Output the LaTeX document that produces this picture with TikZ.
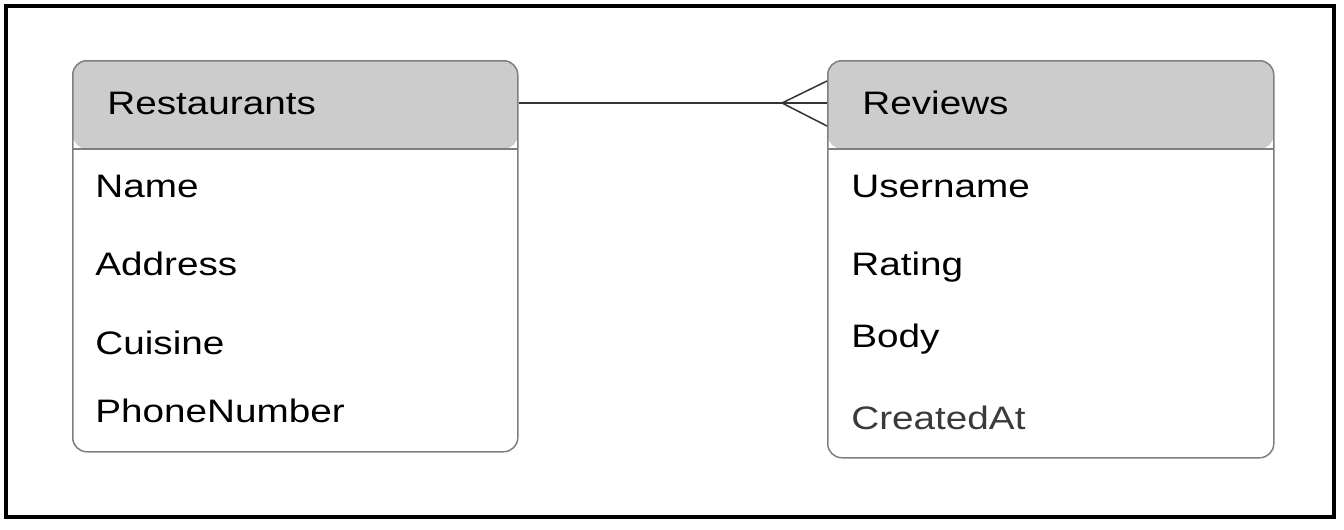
\documentclass[tikz,border=0pt]{standalone}
\usepackage{fontspec}
\setmainfont{Liberation Sans}[FakeStretch=1.19]
\definecolor{headfill}{HTML}{CCCCCC}
\definecolor{boxgray}{HTML}{7F7F7F}
\definecolor{linegray}{HTML}{333333}
\definecolor{softtext}{HTML}{3A3A3A}
\tikzset{
  tablebox/.style={rectangle, draw=boxgray, line width=0.75pt, rounded corners=7pt,
    inner sep=0pt, anchor=north west,
    path picture={
      \fill[headfill] (path picture bounding box.north west) rectangle ([yshift=-44pt]path picture bounding box.north east);
      \draw[boxgray, line width=0.75pt] ([yshift=-44pt]path picture bounding box.north west) -- ([yshift=-44pt]path picture bounding box.north east);
    }},
  label/.style={anchor=base west, inner sep=0pt, font=\fontsize{16.25pt}{19pt}\selectfont, text=black},
  conn/.style={draw=linegray, line width=0.75pt},
}
\begin{document}
\begin{tikzpicture}[x=0.5pt,y=-0.5pt]
\useasboundingbox (0,0) rectangle (1344,530);
\draw[black, line width=2.25pt] (6,6) rectangle (1334,517);

\node[tablebox, minimum width=222.5pt, minimum height=195.5pt] (rest) at (72,60) {};
\node[tablebox, minimum width=223pt, minimum height=198.5pt] (rev) at (827,60) {};

\node[label] (resttitle) at (107,114) {Restaurants};
\node[label] (rname) at (95,197) {Name};
\node[label] (raddr) at (95,275) {Address};
\node[label] (rcuis) at (95,354) {Cuisine};
\node[label] (rphone) at (95,422) {PhoneNumber};

\node[label] (revtitle) at (862,114) {Reviews};
\node[label] (vuser) at (851,197) {Username};
\node[label] (vrating) at (851,275) {Rating};
\node[label] (vbody) at (851,347) {Body};
\node[label, text=softtext] (vcreated) at (851,429) {CreatedAt};

\draw[conn] ([yshift=-21.5pt]rest.north east) -- ([yshift=-21.5pt]rev.north west);
\draw[conn] ([yshift=-10.5pt]rev.north west) -- ([xshift=-22.5pt,yshift=-21.5pt]rev.north west) -- ([yshift=-33pt]rev.north west);
\end{tikzpicture}
\end{document}
